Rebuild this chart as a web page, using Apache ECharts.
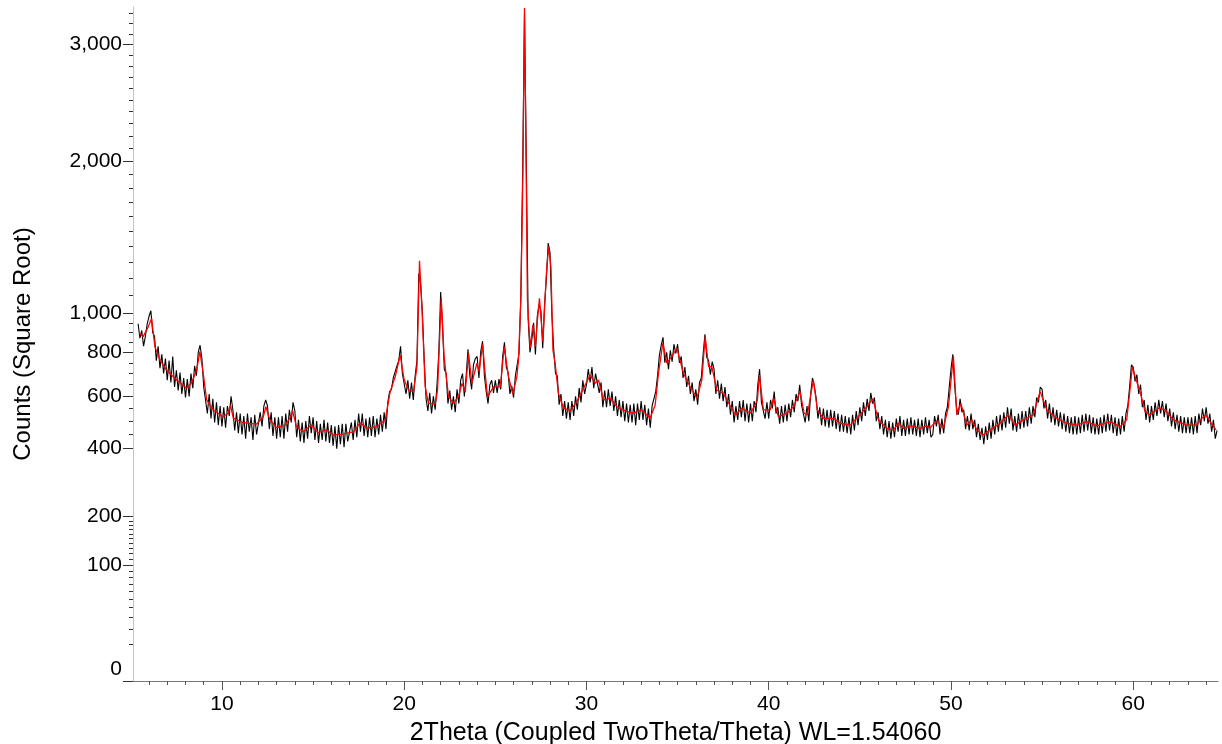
<!DOCTYPE html>
<html>
<head>
<meta charset="utf-8">
<title>XRD pattern</title>
<script src="https://cdn.jsdelivr.net/npm/echarts@6/dist/echarts.min.js"></script>
<style>
    html, body { margin: 0; padding: 0; background: #ffffff; }
    #echarts-main { width: 1222px; height: 744px; }
</style>
</head>
<body>
<div id="echarts-main"></div>
<script>
    // raw scan: first 2theta and step, counts
    const rawStart = 5.4
    const rawStep = 0.1
    const rawCounts = [
        945, 870, 910, 830, 880, 945,
        985, 1015, 900, 880, 760, 830, 725, 790, 700, 770,
        670, 760, 660, 780, 640, 715, 625, 705, 610, 680,
        595, 675, 600, 700, 635, 735, 690, 800, 835, 770,
        640, 645, 530, 610, 510, 590, 495, 575, 485, 560,
        480, 555, 475, 560, 520, 600, 545, 465, 535, 455,
        530, 450, 520, 435, 530, 460, 515, 430, 525, 450,
        455, 535, 480, 560, 585, 560, 470, 535, 445, 515,
        435, 515, 440, 520, 435, 530, 460, 545, 495, 575,
        540, 440, 505, 425, 495, 420, 500, 435, 520, 455,
        515, 430, 500, 420, 490, 430, 505, 425, 495, 420,
        485, 410, 480, 400, 485, 415, 490, 405, 490, 425,
        420, 495, 430, 505, 440, 530, 460, 530, 445, 510,
        440, 515, 445, 520, 440, 510, 450, 525, 460, 535,
        470, 575, 620, 630, 680, 680, 735, 760, 830, 700,
        705, 610, 670, 590, 660, 585, 690, 760, 1230, 1170,
        1000, 760, 590, 540, 615, 530, 600, 545, 650, 800,
        1120, 940, 720, 700, 570, 625, 545, 600, 535, 630,
        570, 670, 700, 600, 690, 815, 690, 630, 740, 770,
        780, 680, 805, 855, 690, 620, 570, 650, 670, 615,
        670, 615, 675, 630, 780, 850, 730, 705, 610, 645,
        595, 690, 685, 795, 1100, 1930, 3300, 2000, 970, 800,
        860, 950, 790, 985, 1050, 1015, 820, 1050, 1200, 1420,
        1360, 1000, 820, 700, 690, 565, 610, 520, 580, 510,
        575, 505, 580, 520, 600, 545, 635, 575, 670, 610,
        650, 720, 660, 730, 635, 700, 705, 615, 660, 555,
        625, 555, 630, 560, 620, 540, 600, 520, 585, 515,
        580, 500, 570, 495, 565, 495, 570, 485, 570, 505,
        580, 505, 565, 485, 550, 475, 560, 565, 620, 690,
        785, 835, 875, 750, 800, 720, 810, 755, 840, 795,
        840, 750, 780, 680, 730, 640, 690, 610, 660, 580,
        630, 565, 660, 680, 790, 890, 775, 760, 695, 755,
        720, 610, 670, 590, 655, 580, 640, 555, 610, 525,
        580, 495, 560, 505, 580, 515, 585, 500, 570, 495,
        570, 500, 580, 535, 650, 720, 575, 580, 510, 575,
        510, 585, 550, 620, 530, 555, 490, 560, 495, 565,
        500, 570, 515, 585, 535, 610, 580, 650, 565, 570,
        495, 560, 500, 610, 680, 645, 595, 510, 555, 485,
        550, 480, 545, 475, 545, 480, 540, 470, 530, 460,
        525, 460, 520, 455, 515, 450, 525, 465, 540, 485,
        555, 500, 575, 520, 590, 540, 615, 570, 595, 500,
        535, 470, 520, 450, 505, 440, 500, 435, 495, 440,
        510, 460, 520, 445, 505, 445, 510, 450, 515, 450,
        505, 445, 510, 440, 505, 450, 515, 455, 505, 440,
        450, 520, 480, 525, 450, 510, 455, 530, 555, 635,
        720, 790, 650, 555, 525, 590, 535, 545, 470, 520,
        465, 530, 470, 505, 440, 490, 430, 475, 415, 480,
        430, 495, 435, 505, 450, 520, 460, 525, 465, 535,
        475, 555, 490, 550, 465, 520, 460, 530, 470, 540,
        475, 540, 480, 555, 490, 560, 515, 595, 575, 640,
        630, 550, 585, 510, 570, 495, 555, 485, 545, 480,
        535, 470, 530, 460, 520, 455, 515, 450, 520, 450,
        515, 455, 525, 460, 530, 465, 525, 455, 515, 450,
        510, 450, 515, 455, 525, 460, 530, 465, 525, 455,
        515, 445, 510, 450, 520, 460, 530, 560, 640, 740,
        730, 665, 695, 610, 650, 555, 585, 505, 565, 495,
        560, 505, 575, 520, 585, 530, 580, 515, 570, 500,
        550, 480, 535, 470, 525, 460, 520, 455, 515, 455,
        515, 455, 515, 450, 520, 455, 530, 485, 550, 500,
        555, 490, 530, 460, 505, 435, 465
    ]

    // fitted (red) profile
    const fitTheta = [
        5.46, 5.68, 5.96, 6.14, 6.32, 6.60, 6.96, 7.51, 8.06, 8.33, 8.61, 8.79, 8.97, 9.16, 9.52,
        10.07, 10.35, 10.47, 10.62, 11.17, 11.90, 12.27, 12.41, 12.63, 13.00, 13.46, 13.73, 13.87,
        14.09, 14.46, 14.91, 15.28, 15.74, 16.11, 16.67, 17.22, 17.59, 17.95, 18.50, 18.96, 19.23,
        19.51, 19.78, 20.00, 20.24, 20.51, 20.70, 20.84, 20.97, 21.15, 21.33, 21.70, 21.83, 22.03,
        22.19, 22.43, 22.70, 22.98, 23.17, 23.35, 23.53, 23.71, 23.99, 24.11, 24.30, 24.44, 24.57,
        24.90, 25.27, 25.49, 25.72, 25.96, 26.18, 26.27, 26.40, 26.51, 26.60, 26.68, 26.76, 26.91,
        27.06, 27.19, 27.31, 27.42, 27.61, 27.79, 27.92, 28.05, 28.16, 28.28, 28.46, 28.74, 29.11,
        29.47, 29.84, 30.20, 30.48, 30.66, 30.93, 31.30, 31.67, 32.22, 32.58, 33.04, 33.49, 33.77,
        33.95, 34.19, 34.41, 34.68, 34.96, 35.32, 35.69, 36.06, 36.33, 36.51, 36.70, 36.88, 37.15,
        37.52, 37.88, 38.19, 38.52, 39.01, 39.38, 39.49, 39.71, 40.08, 40.26, 40.53, 40.99, 41.36,
        41.72, 41.94, 42.12, 42.45, 42.67, 43.00, 43.55, 43.92, 44.47, 44.83, 45.38, 45.71, 46.02,
        46.48, 46.84, 47.12, 47.39, 47.76, 48.31, 48.67, 48.85, 49.22, 49.58, 49.86, 50.13, 50.32,
        50.54, 50.87, 51.14, 51.42, 51.78, 52.15, 52.69, 53.15, 53.52, 53.97, 54.52, 54.89, 55.26,
        55.80, 56.35, 56.90, 57.45, 58.00, 58.73, 59.28, 59.64, 59.82, 59.95, 60.10, 60.37, 60.65,
        60.92, 61.38, 61.75, 62.20, 62.93, 63.48, 63.76, 63.99, 64.21, 64.54
    ]
    const fitCounts = [
        898, 878, 930, 974, 828, 763, 716, 671, 635, 658, 716, 803, 703, 585, 544,
        517, 532, 564, 512, 494, 489, 517, 557, 505, 475, 485, 512, 541,
        479, 460, 485, 457, 467, 448, 452, 460, 494, 473, 479, 505, 620,
        686, 787, 671, 627, 620, 732, 1308, 1038, 641, 571, 568, 627, 1085,
        779, 599, 571, 599, 656, 620, 795, 656, 748, 709, 841, 701, 599,
        641, 641, 828, 686, 610, 686, 763, 1075, 1884, 3354, 2088, 1075, 821,
        939, 828, 965, 1085, 853, 1211, 1397, 1271, 811, 748, 613, 551, 541,
        578, 635, 693, 656, 671, 585, 592, 557, 537, 531, 544, 511, 564,
        701, 845, 748, 779, 820, 701, 641, 592, 671, 878, 732, 732, 627,
        613, 561, 524, 551, 531, 585, 693, 544, 544, 592, 517, 531, 557,
        620, 531, 524, 671, 544, 511, 511, 492, 485, 511, 557, 589, 505,
        473, 467, 492, 473, 482, 473, 482, 474, 502, 473, 557, 782, 524,
        571, 485, 505, 467, 448, 467, 492, 524, 485, 505, 524, 620, 544,
        511, 492, 485, 498, 482, 498, 479, 505, 627, 732, 686, 620, 537,
        524, 551, 544, 505, 485, 485, 511, 524, 498, 467
    ]

    // axis marks
    const yLabelCounts = [0, 100, 200, 400, 600, 800, 1000, 2000, 3000]
    const yMinorCounts = [
        10, 20, 30, 40, 50, 60, 70, 80, 90, 110, 120, 130, 140, 150, 160, 170, 180, 190,
        450, 500, 550, 650, 700, 750, 850, 900, 950,
        1100, 1200, 1300, 1400, 1500, 1600, 1700, 1800, 1900,
        2100, 2200, 2300, 2400, 2500, 2600, 2700, 2800, 2900, 3100, 3200, 3300
    ]
    const xLabelValues = [10, 20, 30, 40, 50, 60]
    const xMinorValues = [
        6, 7, 8, 9, 11, 12, 13, 14, 15, 16, 17, 18, 19, 21, 22, 23, 24, 25, 26, 27, 28, 29,
        31, 32, 33, 34, 35, 36, 37, 38, 39, 41, 42, 43, 44, 45, 46, 47, 48, 49,
        51, 52, 53, 54, 55, 56, 57, 58, 59, 61, 62, 63, 64
    ]

    const FONT = "'Liberation Sans', Arial, sans-serif"

    // square-root axis: plot sqrt(counts), label with counts
    const rawData = rawCounts.map((c, i) => [+(rawStart + i * rawStep).toFixed(2), Math.sqrt(c)])
    const fitData = fitTheta.map((t, i) => [t, Math.sqrt(fitCounts[i])])

    let myChart = echarts.init(document.getElementById('echarts-main'))

    const option = {
        animation: false,
        backgroundColor: '#ffffff',
        grid: {
            left: 133,
            right: 4,
            top: 7,
            bottom: 63,
            containLabel: false,
            outerBoundsMode: 'none'
        },
        xAxis: [
            {
                type: 'value',
                min: 5.12,
                max: 64.65,
                name: '2Theta (Coupled TwoTheta/Theta) WL=1.54060',
                nameLocation: 'middle',
                nameGap: 40,
                nameTextStyle: { fontFamily: FONT, fontSize: 25, color: '#000' },
                axisLine: { show: true, lineStyle: { color: '#777', width: 1 } },
                axisTick: {
                    show: true,
                    length: 9,
                    customValues: xLabelValues,
                    lineStyle: { color: '#555' }
                },
                axisLabel: {
                    customValues: xLabelValues,
                    margin: 13,
                    fontFamily: FONT,
                    fontSize: 21,
                    color: '#000'
                },
                splitLine: { show: false }
            },
            {
                type: 'value',
                position: 'bottom',
                min: 5.12,
                max: 64.65,
                axisLine: { show: false },
                axisTick: {
                    show: true,
                    length: 4,
                    customValues: xMinorValues,
                    lineStyle: { color: '#555' }
                },
                axisLabel: { show: false },
                splitLine: { show: false }
            }
        ],
        yAxis: [
            {
                type: 'value',
                min: 0,
                max: 58,
                name: 'Counts (Square Root)',
                nameLocation: 'middle',
                nameGap: 98,
                nameTextStyle: { fontFamily: FONT, fontSize: 24, color: '#000' },
                axisLine: { show: true, lineStyle: { color: '#c4c4c4', width: 1 } },
                axisTick: {
                    show: true,
                    length: 10,
                    customValues: yLabelCounts.map(Math.sqrt),
                    lineStyle: { color: '#333' }
                },
                axisLabel: {
                    customValues: yLabelCounts.map(Math.sqrt),
                    margin: 11,
                    fontFamily: FONT,
                    fontSize: 21,
                    color: '#000',
                    formatter: (v) => {
                        const c = Math.round(v * v)
                        if (c === 0) return '{zero|0}'
                        return c.toLocaleString('en-US')
                    },
                    rich: {
                        zero: { fontFamily: FONT, fontSize: 21, color: '#000', padding: [0, 0, 24, 0] }
                    }
                },
                splitLine: { show: false }
            },
            {
                type: 'value',
                position: 'left',
                min: 0,
                max: 58,
                axisLine: { show: false },
                axisTick: {
                    show: true,
                    length: 4,
                    customValues: yMinorCounts.map(Math.sqrt),
                    lineStyle: { color: '#333' }
                },
                axisLabel: { show: false },
                splitLine: { show: false }
            }
        ],
        series: [
            {
                name: 'raw',
                type: 'line',
                data: rawData,
                showSymbol: false,
                sampling: 'none',
                clip: true,
                z: 2,
                lineStyle: { color: '#000000', width: 1.1 }
            },
            {
                name: 'fit',
                type: 'line',
                data: fitData,
                showSymbol: false,
                clip: true,
                z: 3,
                lineStyle: { color: '#ff0000', width: 1.3 }
            }
        ]
    }

    myChart.setOption(option)
</script>
</body>
</html>
